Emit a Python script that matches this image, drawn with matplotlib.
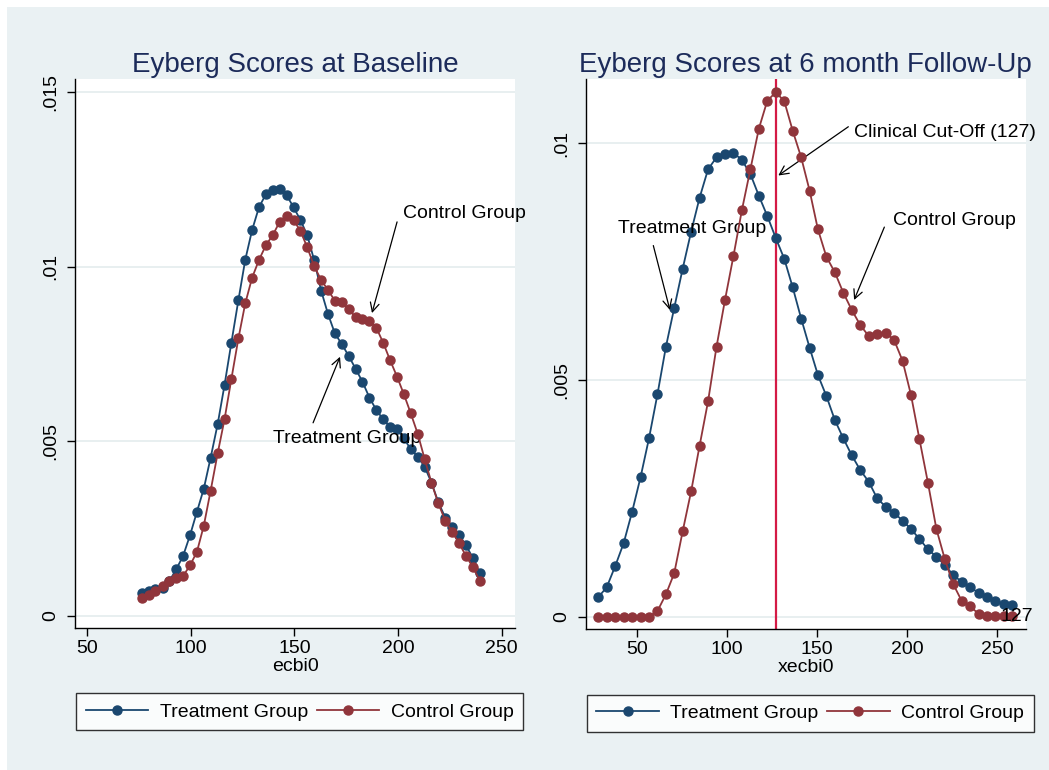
#!/usr/bin/env python3
'''Eyberg score kernel densities, baseline vs 6 month follow-up'''

import numpy as np
import matplotlib
matplotlib.use('Agg')

import matplotlib.pyplot as plt
from matplotlib.patches import Rectangle

plt.rcParams['font.family'] = ['Liberation Sans', 'DejaVu Sans']

# baseline panel: ecbi0 grid and densities (x 1000)
base_x = [76.4, 79.7, 83.0, 86.4, 89.7, 93.0, 96.3, 99.7, 103.0, 106.3,
          109.6, 113.0, 116.3, 119.6, 123.0, 126.3, 129.6, 132.9, 136.3, 139.6,
          142.9, 146.2, 149.6, 152.9, 156.2, 159.5, 162.9, 166.2, 169.5, 172.9,
          176.2, 179.5, 182.8, 186.2, 189.5, 192.8, 196.1, 199.5, 202.8, 206.1,
          209.5, 212.8, 216.1, 219.4, 222.8, 226.1, 229.4, 232.7, 236.1, 239.4]
base_treat = [0.650, 0.716, 0.764, 0.810, 1.002, 1.337, 1.717, 2.318, 2.985, 3.643,
              4.531, 5.495, 6.611, 7.822, 9.044, 10.197, 11.047, 11.697, 12.078, 12.192,
              12.221, 12.049, 11.697, 11.334, 10.896, 10.189, 9.310, 8.643, 8.091, 7.776,
              7.441, 7.078, 6.706, 6.248, 5.896, 5.630, 5.418, 5.343, 5.086, 4.771,
              4.559, 4.273, 3.815, 3.254, 2.813, 2.556, 2.327, 2.023, 1.660, 1.222]
base_ctrl = [0.507, 0.601, 0.716, 0.859, 1.002, 1.079, 1.145, 1.451, 1.840, 2.584,
             3.586, 4.657, 5.630, 6.783, 7.948, 8.950, 9.682, 10.189, 10.618, 10.904,
             11.285, 11.457, 11.334, 11.019, 10.552, 10.017, 9.616, 9.330, 9.024, 8.978,
             8.778, 8.549, 8.500, 8.452, 8.251, 7.822, 7.327, 6.849, 6.345, 5.801,
             5.209, 4.493, 3.815, 3.225, 2.719, 2.413, 2.081, 1.726, 1.394, 1.010]

# follow-up panel: xecbi0 grid and densities (x 1000)
fu_x = [28.5, 33.2, 37.9, 42.6, 47.3, 52.0, 56.7, 61.4, 66.1, 70.7,
        75.4, 80.1, 84.8, 89.5, 94.2, 98.9, 103.6, 108.3, 113.0, 117.7,
        122.4, 127.1, 131.8, 136.5, 141.2, 145.9, 150.5, 155.2, 159.9, 164.6,
        169.3, 174.0, 178.7, 183.4, 188.1, 192.8, 197.5, 202.2, 206.9, 211.6,
        216.3, 221.0, 225.6, 230.3, 235.0, 239.7, 244.4, 249.1, 253.8, 258.5]
fu_treat = [0.410, 0.621, 1.065, 1.550, 2.212, 2.945, 3.768, 4.698, 5.703, 6.521,
            7.351, 8.133, 8.851, 9.451, 9.704, 9.774, 9.801, 9.647, 9.351, 8.893,
            8.464, 8.000, 7.562, 6.958, 6.299, 5.682, 5.106, 4.662, 4.155, 3.768,
            3.409, 3.099, 2.852, 2.501, 2.324, 2.197, 2.028, 1.853, 1.641, 1.424,
            1.267, 1.092, 0.881, 0.739, 0.621, 0.507, 0.422, 0.338, 0.268, 0.241]
fu_ctrl = [0.0, 0.0, 0.0, 0.0, 0.0, 0.0, 0.0, 0.120, 0.473, 0.917,
           1.804, 2.649, 3.612, 4.550, 5.703, 6.690, 7.619, 8.591, 9.451, 10.308,
           10.900, 11.077, 10.893, 10.266, 9.704, 8.999, 8.183, 7.605, 7.275, 6.844,
           6.479, 6.162, 5.929, 5.978, 6.003, 5.845, 5.408, 4.683, 3.747, 2.831,
           1.853, 1.212, 0.691, 0.338, 0.226, 0.057, 0.010, 0.010, 0.010, 0.010]
cutoff = 127

NAVY = '#1a476f'
MAROON = '#90353b'
BG = '#eaf1f3'
GRID = '#e4ecee'
TITLE = '#1c2b5a'
FS = 14


def panel(ax, x, treat, ctrl, title, xlabel, xlim, ylim, yticks, ylabels):
    ax.plot(x, np.array(treat) / 1000, '-o', color=NAVY, lw=1.3, ms=6.5,
            label='Treatment Group', zorder=3)
    ax.plot(x, np.array(ctrl) / 1000, '-o', color=MAROON, lw=1.3, ms=6.5,
            label='Control Group', zorder=4)
    ax.set_xlim(xlim)
    ax.set_ylim(ylim)
    ax.set_xticks([50, 100, 150, 200, 250])
    ax.set_yticks(yticks)
    ax.set_yticklabels(ylabels, rotation=90, va='center')
    ax.yaxis.grid(True, color=GRID, lw=1.2)
    ax.set_axisbelow(True)
    for s in ('top', 'right'):
        ax.spines[s].set_visible(False)
    for s in ('left', 'bottom'):
        ax.spines[s].set_linewidth(1.0)
    ax.tick_params(axis='both', labelsize=FS, length=5.5, width=1.0)
    ax.tick_params(axis='y', pad=6)
    ax.tick_params(axis='x', pad=3)
    ax.set_xlabel(xlabel, fontsize=FS, labelpad=1)
    ax.set_title(title, fontsize=20, color=TITLE, pad=5.5)
    leg = ax.legend(loc='center', bbox_to_anchor=(0.51, -0.153), ncol=2,
                    fontsize=FS, frameon=True, fancybox=False,
                    edgecolor='black', handlelength=3.2, handletextpad=0.6,
                    columnspacing=0.45, borderpad=0.5, borderaxespad=0)
    leg.get_frame().set_linewidth(1.0)


def arrow_note(ax, text, xy, start, textpos):
    ax.annotate('', xy=xy, xytext=start,
                arrowprops=dict(arrowstyle='->', color='black', lw=0.9,
                                mutation_scale=16, shrinkA=0, shrinkB=0))
    ax.text(textpos[0], textpos[1], text, fontsize=FS, va='center', ha='left')


def main():
    fig = plt.figure(figsize=(10.49, 7.70), dpi=100)
    fig.patch.set_facecolor('white')
    fig.patches.append(Rectangle((7 / 1049, 0), 1 - 7 / 1049, 1 - 7 / 770,
                                 transform=fig.transFigure, facecolor=BG,
                                 edgecolor='none', zorder=-10))

    ax1 = fig.add_axes([0.0719, 0.1844, 0.4195, 0.7126])
    ax2 = fig.add_axes([0.5586, 0.1831, 0.4192, 0.7139])

    panel(ax1, base_x, base_treat, base_ctrl, 'Eyberg Scores at Baseline',
          'ecbi0', (44.4, 256.6), (-0.000343, 0.015361),
          [0, 0.005, 0.01, 0.015], ['0', '.005', '.01', '.015'])
    panel(ax2, fu_x, fu_treat, fu_ctrl, 'Eyberg Scores at 6 month Follow-Up',
          'xecbi0', (21.7, 265.9), (-0.00026, 0.011352),
          [0, 0.005, 0.01], ['0', '.005', '.01'])

    ax2.axvline(cutoff, color='#d41a45', lw=1.6, zorder=2)
    ax2.text(261.1, 0.0, str(cutoff), fontsize=FS, ha='center', va='center',
             zorder=6)

    arrow_note(ax1, 'Control Group', (187.4, 0.00867), (199.5, 0.01128),
               (202.4, 0.01153))
    arrow_note(ax1, 'Treatment Group', (172.0, 0.00742), (159.0, 0.00553),
               (139.7, 0.00509))
    arrow_note(ax2, 'Clinical Cut-Off (127)', (128.5, 0.00932),
               (167.4, 0.01035), (170.6, 0.01023))
    arrow_note(ax2, 'Control Group', (170.6, 0.00669), (187.4, 0.00823),
               (192.4, 0.00838))
    arrow_note(ax2, 'Treatment Group', (68.3, 0.00648), (59.1, 0.00784),
               (39.6, 0.00820))

    plt.savefig('out.png', dpi=100, facecolor=fig.get_facecolor())


if __name__ == "__main__":
    main()
